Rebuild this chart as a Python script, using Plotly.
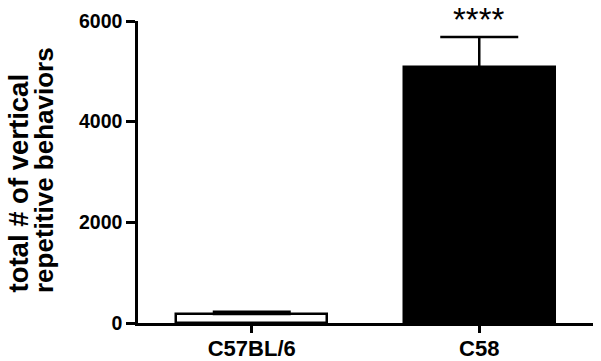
import plotly.graph_objects as go

categories = ["C57BL/6", "C58"]
means = [180, 5080]
sems = [45, 600]
fill_colors = ["white", "black"]
y_tickvals = [0, 2000, 4000, 6000]
y_ticktext = ["0", "2000", "4000", "6000"]
title_lines = ["total # of vertical", "repetitive behaviors"]
sig_label = "****"

FONT = "Liberation Sans, Arial, sans-serif"
x_pos = list(range(len(categories)))

fig = go.Figure()
fig.add_trace(go.Bar(
    x=x_pos, y=means, width=0.665,
    marker=dict(color=fill_colors, line=dict(color="black", width=2.5)),
    error_y=dict(type="data", symmetric=False, array=sems,
                 arrayminus=[0] * len(sems),
                 color="black", thickness=2.5, width=39),
    showlegend=False,
))

fig.update_layout(
    width=601, height=361,
    margin=dict(l=138, r=8, t=21, b=38, autoexpand=False),
    plot_bgcolor="white", paper_bgcolor="white",
    font=dict(family=FONT, color="black"),
    bargap=0,
)
fig.update_xaxes(
    range=[-0.5, 1.5], tickvals=x_pos, ticktext=categories,
    showline=True, linecolor="black", linewidth=2.5,
    ticks="outside", ticklen=7, tickwidth=2.5, tickcolor="black",
    ticklabelstandoff=-3,
    tickfont=dict(family=FONT, size=22, color="black", weight="bold"),
    showgrid=False, zeroline=False, fixedrange=True, automargin=False,
)
fig.update_yaxes(
    range=[0, 6000], tickvals=y_tickvals, ticktext=y_ticktext,
    showline=True, linecolor="black", linewidth=2.5,
    ticks="outside", ticklen=9, tickwidth=2.5, tickcolor="black",
    tickfont=dict(family=FONT, size=19.5, color="black", weight="bold"),
    showgrid=False, zeroline=False, fixedrange=True, automargin=False,
)

# two-line rotated y-axis title, left-aligned along the text direction
title_x_px = [-120, -94]
title_sizes = [27.5, 26]
for line, xs, sz in zip(title_lines, title_x_px, title_sizes):
    fig.add_annotation(
        text=line, textangle=-90, xref="paper", yref="paper",
        x=0, y=0, xanchor="center", yanchor="bottom",
        xshift=xs, yshift=28, showarrow=False,
        font=dict(family=FONT, size=sz, color="black", weight="bold"),
    )

fig.add_annotation(
    text=sig_label, x=x_pos[1], y=means[1] + sems[1], xref="x", yref="y",
    xanchor="center", yanchor="bottom", yshift=-3, showarrow=False,
    font=dict(family=FONT, size=33, color="black"),
)

fig.write_html(
    "out.html",
    config={"displayModeBar": False},
    post_script="document.body.style.margin='0';document.body.style.padding='0';",
)
